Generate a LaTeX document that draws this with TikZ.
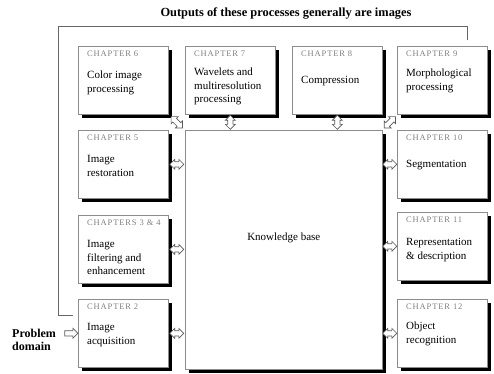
\documentclass[tikz,border=0pt]{standalone}
\usepackage{fontspec}
\setmainfont{Liberation Serif}
\newfontfamily\chapfont[LetterSpace=10]{Liberation Serif}
\usetikzlibrary{shapes.arrows,shadows,calc}
\newcommand{\chbox}[6]{%
  \node[box] (#1) at (#2,#3) {};
  \node[chap] (#1-l) at ([shift={(9,10.5)}]#1.north west) {#4};
  \node[body] (#1-t) at ([shift={(9,#6)}]#1.north west) {\rule{0pt}{8pt}#5};
}
\begin{document}
\begin{tikzpicture}[x=1pt,y=-1pt,
  box/.style={draw=black!45, line width=0.6pt, fill=white, anchor=north west,
    minimum width=90pt, minimum height=68pt, inner sep=0pt,
    drop shadow={shadow xshift=3.5pt, shadow yshift=-3.5pt, fill=black, opacity=1}},
  chap/.style={anchor=base west, inner sep=0pt, text=black!50,
    font=\chapfont\fontsize{8.5}{10}\selectfont},
  body/.style={anchor=north west, inner sep=0pt, align=left,
    font=\fontsize{11}{13.5}\selectfont},
  dbl/.style={double arrow, draw=black!65, fill=white, line width=0.7pt,
    inner xsep=0pt, inner ysep=2.3pt, minimum height=14pt,
    double arrow head extend=2.3pt},
  sgl/.style={single arrow, draw=black!65, fill=white, line width=0.7pt,
    inner xsep=0pt, inner ysep=2.3pt, minimum height=13pt,
    single arrow head extend=2.3pt},
  fb/.style={draw=black!60, line width=1pt}
]
\useasboundingbox (0,0) rectangle (494,373);

\node[font=\bfseries\fontsize{12.4}{14}\selectfont] (title) at (286,13)
  {Outputs of these processes generally are images};

% knowledge base
\node[box, minimum width=197pt, minimum height=239pt] (kb) at (185,130) {};
\node[font=\fontsize{11}{13.5}\selectfont] (kbt) at ($(kb.center)+(0,-11.5)$) {Knowledge base};

% chapter boxes
\chbox{ch6}{78}{46}{CHAPTER 6}{Color image\\processing}{24.5}
\chbox{ch7}{185}{46}{CHAPTER 7}{Wavelets and\\multiresolution\\processing}{21.5}
\chbox{ch8}{292}{46}{CHAPTER 8}{Compression}{29.5}
\chbox{ch9}{397}{46}{CHAPTER 9}{Morphological\\processing}{22.5}
\chbox{ch5}{78}{130}{CHAPTER 5}{Image\\restoration}{24.5}
\chbox{ch34}{78}{215}{CHAPTERS 3 \& 4}{Image\\filtering and\\enhancement}{24.5}
\chbox{ch2}{78}{299}{CHAPTER 2}{Image\\acquisition}{23.5}
\chbox{ch10}{397}{130}{CHAPTER 10}{Segmentation}{29}
\chbox{ch11}{397}{212}{CHAPTER 11}{Representation\\\& description}{25.5}
\chbox{ch12}{397}{299}{CHAPTER 12}{Object\\recognition}{22.5}

% problem domain
\node[anchor=north west, inner sep=0pt, align=left,
  font=\bfseries\fontsize{12}{13.5}\selectfont] (prob) at (12,328)
  {\rule{0pt}{9pt}Problem\\domain};
\node[sgl] (pa) at ($(ch2.west)+(-8,0)$) {};

% feedback line
\coordinate (fbtop) at ($(ch9.north west)+(70,0)$);
\coordinate (fbcorner) at (58,26);
\coordinate (fbend) at ($(ch2.north west)+(0,16)$);
\draw[fb, shorten <=6pt, shorten >=5pt] (fbtop) |- (fbcorner) |- (fbend);

% arrows between boxes and knowledge base
\node[dbl, rotate=-45, minimum height=16pt] (a6) at ($(ch6.south east)!.5!(kb.north west)$) {};
\node[dbl, rotate=90] (a7) at ($(ch7.south)!.5!(ch7.south |- kb.north)$) {};
\node[dbl, rotate=90] (a8) at ($(ch8.south)!.5!(ch8.south |- kb.north)$) {};
\node[dbl, rotate=45, minimum height=16pt] (a9) at ($(ch9.south west)!.5!(kb.north east)$) {};
\node[dbl] (a5) at ($(ch5.east)!.5!(kb.west |- ch5.east)$) {};
\node[dbl] (a34) at ($(ch34.east)!.5!(kb.west |- ch34.east)$) {};
\node[dbl] (a2) at ($(ch2.east)!.5!(kb.west |- ch2.east)$) {};
\node[dbl] (a10) at ($(ch10.west)!.5!(kb.east |- ch10.west)$) {};
\node[dbl] (a11) at ($(ch11.west)!.5!(kb.east |- ch11.west)$) {};
\node[dbl] (a12) at ($(ch12.west)!.5!(kb.east |- ch12.west)$) {};
\end{tikzpicture}
\end{document}
